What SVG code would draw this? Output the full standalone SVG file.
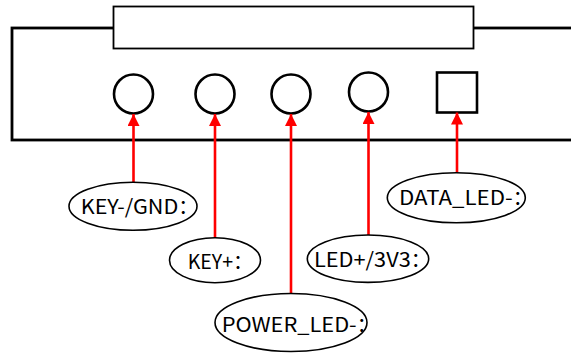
<svg xmlns="http://www.w3.org/2000/svg" width="571" height="353" viewBox="0 0 571 353">
<style>
.lbl{font-family:"Noto Sans CJK SC","Noto Sans",sans-serif;font-size:20px;fill:#000}
.ell{fill:#fff;stroke:#000;stroke-width:1.6}
.port{fill:#fff;stroke:#000;stroke-width:2.6}
.wire{stroke:#ff0000;stroke-width:2.6;fill:none}
</style>
<defs>
<marker id="ah" viewBox="0 0 12 12" refX="12" refY="6" markerWidth="12" markerHeight="12" markerUnits="userSpaceOnUse" orient="auto">
<path d="M0,0 L12,6 L0,12 Z" fill="#ff0000"/>
</marker>
</defs>
<g id="board">
<rect x="12" y="28" width="570" height="112" fill="#fff" stroke="#000" stroke-width="2.8"/>
<rect x="113.5" y="6.5" width="360" height="42" fill="#fff" stroke="#000" stroke-width="1.8"/>
</g>
<g id="port1"><circle class="port" cx="133.5" cy="94" r="19.5"/></g>
<g id="port2"><circle class="port" cx="215" cy="94" r="19.5"/></g>
<g id="port3"><circle class="port" cx="291" cy="94" r="19.5"/></g>
<g id="port4"><circle class="port" cx="368.5" cy="92" r="19.5"/></g>
<g id="port5"><rect class="port" x="437" y="72.5" width="40" height="40"/></g>
<g id="connectors">
<line class="wire" x1="133.5" y1="182.5" x2="133.5" y2="114" marker-end="url(#ah)"/>
<line class="wire" x1="215" y1="237.5" x2="215" y2="114" marker-end="url(#ah)"/>
<line class="wire" x1="291" y1="293.5" x2="291" y2="114" marker-end="url(#ah)"/>
<line class="wire" x1="368.5" y1="235" x2="368.5" y2="112" marker-end="url(#ah)"/>
<line class="wire" x1="457" y1="173" x2="457" y2="112.5" marker-end="url(#ah)"/>
</g>
<g id="label1">
<ellipse class="ell" cx="133" cy="206.2" rx="64" ry="24"/>
<text class="lbl" y="214"><tspan x="80.7" textLength="97.6" lengthAdjust="spacingAndGlyphs">KEY-/GND</tspan><tspan>：</tspan></text>
</g>
<g id="label2">
<ellipse class="ell" cx="215" cy="260.2" rx="45.5" ry="22.5"/>
<text class="lbl" y="269"><tspan x="187.7" textLength="45.3" lengthAdjust="spacingAndGlyphs">KEY+</tspan><tspan>：</tspan></text>
</g>
<g id="label3">
<ellipse class="ell" cx="291" cy="322.5" rx="76" ry="29"/>
<text class="lbl" y="331.7"><tspan x="221.7" textLength="135" lengthAdjust="spacingAndGlyphs">POWER_LED-</tspan><tspan>：</tspan></text>
</g>
<g id="label4">
<ellipse class="ell" cx="368" cy="258.7" rx="60.7" ry="23.7"/>
<text class="lbl" y="266.7"><tspan x="314" textLength="96.7" lengthAdjust="spacingAndGlyphs">LED+/3V3</tspan><tspan>：</tspan></text>
</g>
<g id="label5">
<ellipse class="ell" cx="456.3" cy="197.7" rx="69" ry="25"/>
<text class="lbl" y="205"><tspan x="399" textLength="113.7" lengthAdjust="spacingAndGlyphs">DATA_LED-</tspan><tspan>：</tspan></text>
</g>
</svg>
